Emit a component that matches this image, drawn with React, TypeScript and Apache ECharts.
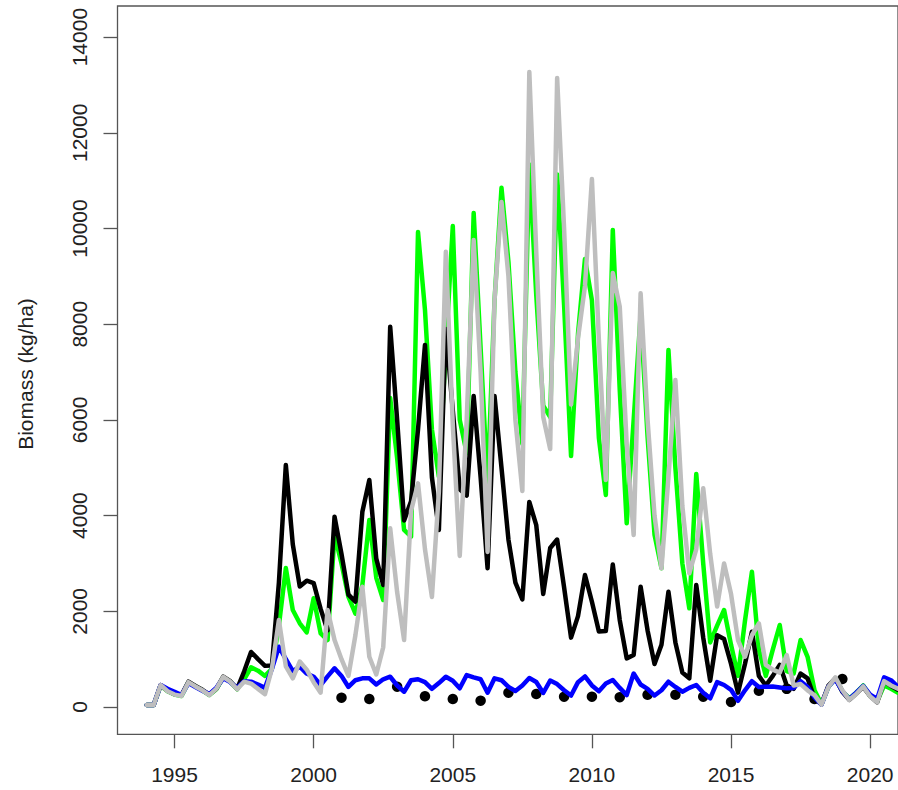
import React, { useEffect, useRef } from "react";
import * as echarts from "echarts";

// Sampling dates: quarterly from 1994.0
const firstYear = 1994;
const nSamples = 109;
const times: number[] = Array.from({ length: nSamples }, (_, i) => firstYear + i * 0.25);

const blackSeries = [
  40, 40, 460, 340, 270, 250, 529, 440, 360, 260, 380, 633, 540, 380, 740, 1150, 1000, 860, 870, 2600,
  5058, 3400, 2520, 2640, 2590, 2050, 1600, 3977, 3200, 2350, 2200, 4080, 4744, 3100, 2550, 7948, 6000, 3900, 4300, 5800,
  7566, 4800, 3700, 7900, 6200, 4550, 4420, 6500, 4800, 2900, 6500, 5000, 3500, 2600, 2250, 4285, 3800, 2362, 3323, 3500,
  2500, 1450, 1900, 2759, 2200, 1580, 1590, 2978, 1818, 1017, 1087, 2514, 1600, 900, 1300, 2410, 1350, 720, 600, 2550,
  1450, 550, 1500, 1420, 900, 300, 900, 1574, 650, 450, 650, 880, 450, 380, 700, 600, 180, 60, 450, 600,
  320, 150, 280, 420, 230, 100, 540, 440, 360,
];

const greenSeries = [
  40, 40, 450, 330, 260, 230, 515, 430, 350, 250, 370, 620, 530, 370, 580, 830, 760, 650, 800, 1700,
  2905, 2027, 1750, 1560, 2272, 1540, 1400, 3600, 3000, 2300, 1950, 2550, 3908, 2700, 2236, 6458, 5200, 3700, 3560, 9928,
  8300, 5800, 4813, 7500, 10052, 6000, 5300, 10325, 7500, 4648, 8500, 10851, 9300, 7000, 5500, 11336, 8600, 6300, 6061, 11127,
  8400, 5245, 7800, 9363, 8500, 5622, 4431, 9970, 6625, 3839, 6000, 8200, 5650, 3600, 2900, 7461, 5000, 3000, 2063, 4870,
  3000, 1350, 1700, 2027, 1300, 650, 1800, 2828, 1200, 650, 1200, 1714, 750, 700, 1400, 1050, 350, 60, 420, 600,
  330, 180, 300, 450, 230, 120, 450, 380, 300,
];

const greySeries = [
  40, 40, 460, 330, 260, 230, 520, 430, 350, 250, 380, 630, 530, 370, 530, 490, 380, 270, 800, 1818,
  850, 600, 950, 780, 520, 300, 2027, 1400, 1000, 650, 1500, 2514, 1050, 680, 1250, 3734, 2400, 1400, 4100, 4675,
  3300, 2300, 4500, 9514, 5900, 3156, 6000, 9760, 7000, 3240, 8500, 10555, 9000, 6000, 4514, 13272, 9500, 6061, 5392, 13146,
  10000, 6320, 7700, 8800, 11035, 7670, 4744, 9070, 8366, 5500, 3595, 8646, 6000, 4000, 2900, 4800, 6834, 4200, 2794, 3300,
  4570, 3200, 2100, 3000, 2360, 1400, 1050, 1500, 1749, 880, 780, 720, 1087, 450, 480, 350, 250, 50, 420, 620,
  350, 150, 270, 430, 220, 100, 540, 450, 380,
];

const blueSeries = [
  40, 40, 460, 380, 320, 250, 500, 420, 340, 270, 400, 600, 520, 400, 540, 530, 470, 400, 800, 1260,
  1000, 750, 842, 700, 633, 460, 640, 809, 650, 420, 560, 600, 600, 470, 580, 633, 450, 320, 560, 580,
  520, 380, 500, 633, 550, 391, 669, 620, 580, 300, 600, 560, 420, 334, 450, 606, 522, 293, 554, 480,
  350, 240, 520, 640, 450, 330, 490, 564, 400, 250, 700, 470, 380, 240, 350, 529, 420, 320, 400, 460,
  300, 181, 520, 460, 360, 130, 350, 540, 420, 424, 430, 410, 390, 400, 540, 420, 200, 50, 430, 580,
  330, 170, 300, 440, 260, 170, 620, 560, 420,
];

const obsYears = [2001, 2002, 2003, 2004, 2005, 2006, 2007, 2008, 2009, 2010, 2011, 2012, 2013, 2014, 2015, 2016, 2017, 2018, 2019];
const obsValues = [195, 167, 425, 224, 167, 132, 299, 272, 215, 215, 205, 255, 255, 215, 105, 340, 380, 167, 585];

const xTicks = [1995, 2000, 2005, 2010, 2015, 2020];
const yTicks = [0, 2000, 4000, 6000, 8000, 10000, 12000, 14000];
const yTitle = "Biomass (kg/ha)";

const FONT = "'Liberation Sans', Arial, Helvetica, sans-serif";
const AXIS_COLOR = "#555555";

export default function App() {
  const ref = useRef<HTMLDivElement>(null);

  useEffect(() => {
    if (!ref.current) return;
    const chart = echarts.init(ref.current, undefined, { renderer: "svg" });

    const toPairs = (vals: number[]) => times.map((t, i) => [t, vals[i]]);
    const lineSeries = (name: string, vals: number[], color: string, z: number) => ({
      name,
      type: "line",
      data: toPairs(vals),
      showSymbol: false,
      symbol: "none",
      silent: true,
      z,
      clip: true,
      lineStyle: { color, width: 4.5, cap: "round", join: "round" },
    });

    chart.setOption({
      animation: false,
      backgroundColor: "#ffffff",
      grid: {
        left: 117.5,
        top: 6,
        right: -3,
        bottom: 55.7,
        show: true,
        borderColor: AXIS_COLOR,
        borderWidth: 1.3,
        backgroundColor: "transparent",
      },
      xAxis: {
        type: "value",
        min: 1992.95,
        max: 2021.0,
        axisLine: { show: false, onZero: false },
        splitLine: { show: false },
        axisTick: {
          show: true,
          length: 14,
          customValues: xTicks,
          lineStyle: { color: AXIS_COLOR, width: 1.3 },
        },
        axisLabel: {
          customValues: xTicks,
          margin: 30,
          fontSize: 21,
          fontFamily: FONT,
          color: "#222222",
          formatter: (v: number) => String(v),
        },
      },
      yAxis: {
        type: "value",
        min: -570,
        max: 14650,
        axisLine: { show: false, onZero: false },
        splitLine: { show: false },
        axisTick: {
          show: true,
          length: 14,
          customValues: yTicks,
          lineStyle: { color: AXIS_COLOR, width: 1.3 },
        },
        axisLabel: {
          customValues: yTicks,
          rotate: 90,
          margin: 28,
          fontSize: 21,
          fontFamily: FONT,
          color: "#222222",
          formatter: (v: number) => String(v),
        },
      },
      graphic: [
        {
          type: "text",
          x: 25,
          y: 374,
          rotation: Math.PI / 2,
          style: {
            text: yTitle,
            fontSize: 21,
            fontFamily: FONT,
            fill: "#222222",
            align: "center",
            verticalAlign: "middle",
          },
        },
      ],
      series: [
        {
          name: "Observed",
          type: "scatter",
          data: obsYears.map((y, i) => [y, obsValues[i]]),
          symbol: "circle",
          symbolSize: 10.5,
          silent: true,
          z: 1,
          itemStyle: { color: "#000000", opacity: 1 },
        },
        lineSeries("Green", greenSeries, "#00ff00", 2),
        lineSeries("Black", blackSeries, "#000000", 3),
        lineSeries("Blue", blueSeries, "#0000ff", 4),
        lineSeries("Grey", greySeries, "#bebebe", 5),
      ],
    });

    return () => chart.dispose();
  }, []);

  return (
    <div
      ref={ref}
      style={{ position: "fixed", left: 0, top: 0, width: 898, height: 790, background: "#fff" }}
    />
  );
}
